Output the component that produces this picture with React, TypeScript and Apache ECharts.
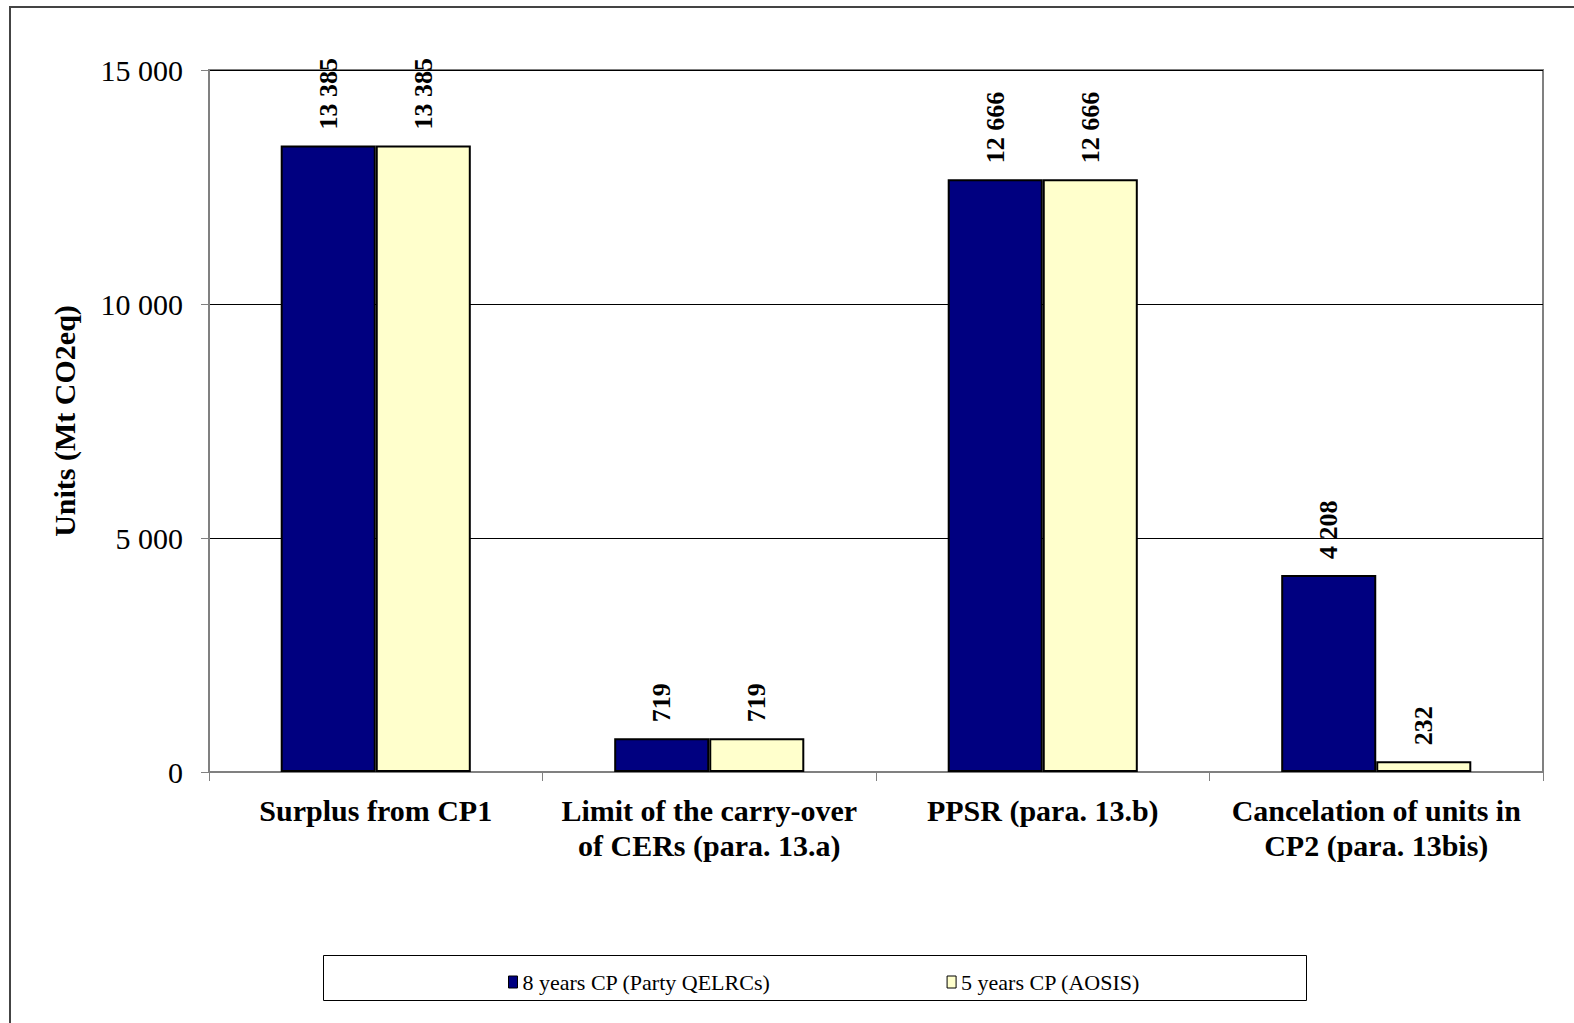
import React, { useEffect, useRef } from "react";
import * as echarts from "echarts";

const categories = [
  "Surplus from CP1",
  "Limit of the carry-over\nof CERs (para. 13.a)",
  "PPSR (para. 13.b)",
  "Cancelation of units in\nCP2 (para. 13bis)",
];
const seriesNames = ["8 years CP (Party QELRCs)", "5 years CP (AOSIS)"];
const eightYears = [13385, 719, 12666, 4208];
const fiveYears = [13385, 719, 12666, 232];
const yTicks = { min: 0, max: 15000, interval: 5000 };

const FONT = "'Liberation Serif', 'Times New Roman', serif";
const fmt = (v: number) => String(Math.round(v)).replace(/\B(?=(\d{3})+(?!\d))/g, " ");

export default function App() {
  const ref = useRef<HTMLDivElement>(null);
  useEffect(() => {
    if (!ref.current) return;
    const chart = echarts.init(ref.current, null, { renderer: "svg" });
    const label = {
      show: true,
      position: "top",
      rotate: 90,
      align: "left",
      verticalAlign: "middle",
      distance: 16,
      fontFamily: FONT,
      fontWeight: "bold",
      fontSize: 26,
      color: "#000",
      formatter: (p: any) => fmt(p.value),
    };
    chart.setOption({
      animation: false,
      backgroundColor: "#fff",
      textStyle: { fontFamily: FONT },
      grid: {
        left: 209,
        top: 70,
        right: 31,
        bottom: 251,
        show: true,
        borderColor: "#808080",
        borderWidth: 2,
        containLabel: false,
      },
      legend: {
        left: 503,
        top: 966,
        itemGap: 176,
        itemWidth: 9,
        itemHeight: 12,
        icon: "rect",
        itemStyle: { borderColor: "#000", borderWidth: 1 },
        textStyle: { fontFamily: FONT, fontSize: 22, color: "#000" },
        data: seriesNames,
      },
      xAxis: {
        type: "category",
        data: categories,
        boundaryGap: true,
        axisLine: { lineStyle: { color: "#808080", width: 2 } },
        axisTick: { show: true, length: 9, alignWithLabel: false, lineStyle: { color: "#808080", width: 1 } },
        axisLabel: {
          fontFamily: FONT,
          fontWeight: "bold",
          fontSize: 30,
          lineHeight: 35,
          color: "#000",
          margin: 21,
          interval: 0,
        },
      },
      yAxis: {
        type: "value",
        min: yTicks.min,
        max: yTicks.max,
        interval: yTicks.interval,
        name: "Units (Mt CO2eq)",
        nameLocation: "middle",
        nameGap: 130,
        nameTextStyle: { fontFamily: FONT, fontWeight: "bold", fontSize: 30, color: "#000" },
        axisLine: { show: true, lineStyle: { color: "#808080", width: 2 } },
        axisTick: { show: true, length: 8, lineStyle: { color: "#808080", width: 1 } },
        axisLabel: {
          fontFamily: FONT,
          fontSize: 30,
          color: "#000",
          margin: 26,
          formatter: (v: number) => fmt(v),
        },
        splitLine: { show: true, lineStyle: { color: "#000", width: 1 } },
      },
      series: [
        {
          name: seriesNames[0],
          type: "bar",
          data: eightYears,
          barGap: "0%",
          barCategoryGap: "43%",
          itemStyle: { color: "#000080", borderColor: "#000", borderWidth: 2 },
          label,
        },
        {
          name: seriesNames[1],
          type: "bar",
          data: fiveYears,
          barGap: "0%",
          barCategoryGap: "43%",
          itemStyle: { color: "#FFFFCC", borderColor: "#000", borderWidth: 2 },
          label,
        },
      ],
      graphic: [
        {
          type: "rect",
          shape: { x: 10, y: 7, width: 1700, height: 1200 },
          style: { fill: "none", stroke: "#444", lineWidth: 2 },
          silent: true,
          z: -1,
        },
        {
          type: "rect",
          shape: { x: 323.5, y: 955.5, width: 983, height: 45 },
          style: { fill: "none", stroke: "#000", lineWidth: 1 },
          silent: true,
          z: -1,
        },
      ],
    });
    return () => chart.dispose();
  }, []);
  return (
    <div
      ref={ref}
      style={{ position: "fixed", left: 0, top: 0, width: 1574, height: 1023, background: "#fff" }}
    />
  );
}
